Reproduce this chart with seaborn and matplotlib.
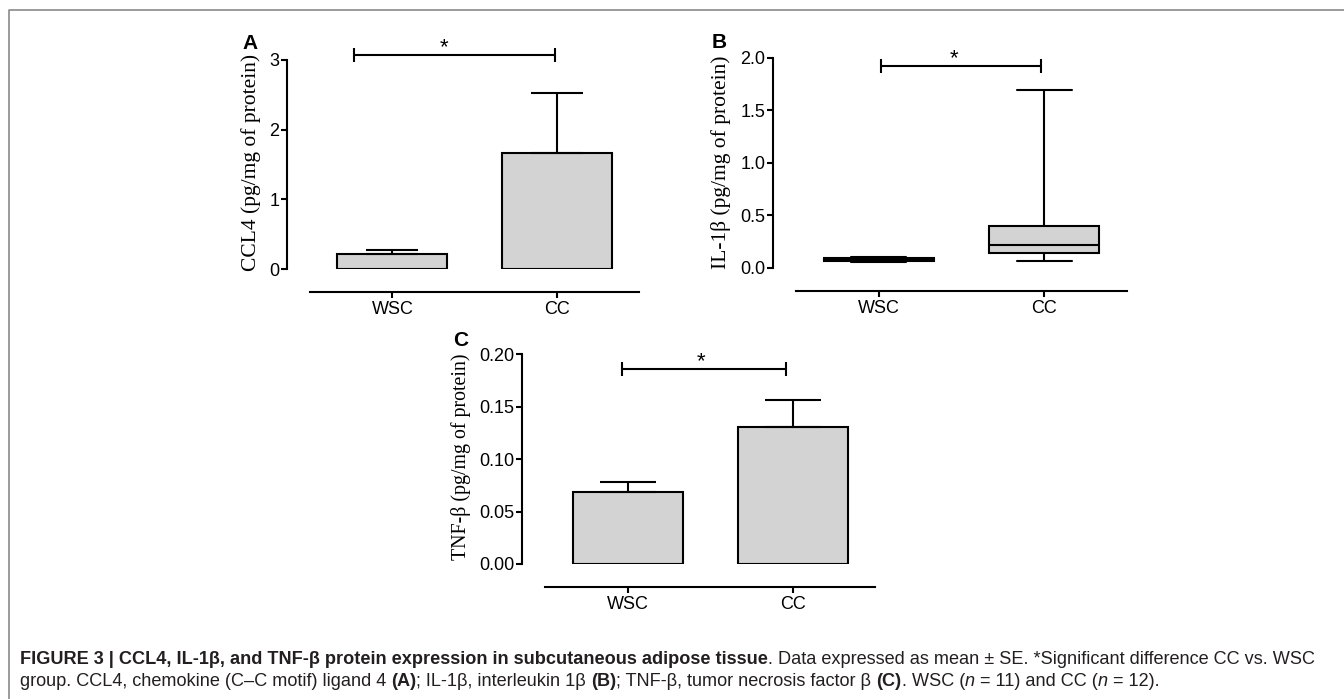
import numpy as np
import pandas as pd
import matplotlib
matplotlib.use('Agg')
import matplotlib.pyplot as plt
import seaborn as sns

# dados
grupos = ['WSC', 'CC']

# A - CCL4 (media +- EP)
ccl4_media = [0.21, 1.66]
ccl4_ep = [0.06, 0.86]

# B - IL-1b (resumo de cinco numeros: min, q1, mediana, q3, max)
il1b_wsc = [0.055, 0.06, 0.07, 0.09, 0.105]
il1b_cc = [0.064, 0.137, 0.22, 0.40, 1.69]

# C - TNF-b (media +- EP)
tnfb_media = [0.069, 0.131]
tnfb_ep = [0.0095, 0.025]

ticks_a = [0, 1, 2, 3]
ticks_b = [0.0, 0.5, 1.0, 1.5, 2.0]
ticks_c = [0.00, 0.05, 0.10, 0.15, 0.20]

# barras de significancia: (x inicio, x fim, y, x da estrela)
sig_a = (-0.236, 0.988, 3.07, 0.315)
sig_b = (0.01, 0.98, 1.92, 0.457)
sig_c = (-0.035, 0.96, 0.186, 0.447)

sns.set_style('white')
plt.rcParams['font.family'] = ['Liberation Sans', 'DejaVu Sans']
plt.rcParams['text.color'] = 'black'
plt.rcParams['axes.labelcolor'] = 'black'
plt.rcParams['xtick.color'] = 'black'
plt.rcParams['ytick.color'] = 'black'

W, H = 1344, 699
fig = plt.figure(figsize=(W / 100, H / 100), dpi=100)

# eixo de fundo em pixels (moldura e legenda)
bg = fig.add_axes([0, 0, 1, 1])
bg.set_xlim(0, W)
bg.set_ylim(H, 0)
bg.axis('off')
bg.plot([9, 9, W], [H, 10, 10], color='#8a8a8a', lw=1.2)


def novo_eixo(left, right, top, bottom):
    return fig.add_axes([left / W, 1 - bottom / H, (right - left) / W, (bottom - top) / H])


def estilo(ax, ticks, fmt, ylabel, lsize, lx, ly):
    ax.set_xlim(-0.64, 1.5)
    ax.set_ylim(ticks[0], ticks[-1])
    ax.set_yticks(ticks)
    ax.set_yticklabels([fmt.format(t) for t in ticks], fontsize=13)
    ax.tick_params(axis='x', labelsize=13, pad=2.5)
    ax.tick_params(direction='out', length=4, width=1.5, left=True, bottom=True)
    ax.tick_params(axis='y', pad=1.5)
    for s in ['top', 'right']:
        ax.spines[s].set_visible(False)
    for s in ['left', 'bottom']:
        ax.spines[s].set_linewidth(1.5)
        ax.spines[s].set_color('black')
    ax.spines['bottom'].set_position(('outward', 16.5))
    ax.spines['bottom'].set_bounds(-0.5, 1.5)
    ax.set_xlabel('')
    ax.set_ylabel(ylabel, family=['Liberation Serif', 'DejaVu Serif'], fontsize=lsize)
    ax.yaxis.set_label_coords(lx, ly)
    ax.set_facecolor('none')


def significancia(ax, sig):
    x0, x1, y, xs = sig
    ax.plot([x0, x1], [y, y], color='black', lw=1.5, marker='|', ms=9.5, mew=1.5,
            clip_on=False, solid_capstyle='butt')
    ax.annotate('*', xy=(xs, y), xytext=(0, 1.5), textcoords='offset points',
                ha='center', va='baseline', fontsize=16, annotation_clip=False)


cinza = '#d3d3d3'

# Painel A
ax_a = novo_eixo(287, 639.5, 60, 269)
sns.barplot(x=grupos, y=ccl4_media, color=cinza, saturation=1, width=0.667,
            edgecolor='black', linewidth=1.5, errorbar=None, ax=ax_a)
ax_a.errorbar(x=[0, 1], y=ccl4_media, yerr=[[0, 0], ccl4_ep], fmt='none', ecolor='black',
              elinewidth=1.5, capsize=19, capthick=1.5, zorder=1)
estilo(ax_a, ticks_a, '{:.0f}', 'CCL4 (pg/mg of protein)', 15.5, -0.075, 0.51)
significancia(ax_a, sig_a)

# Painel B
ax_b = novo_eixo(773, 1127, 57.7, 267.7)
df_b = pd.DataFrame({'grupo': ['WSC'] * len(il1b_wsc) + ['CC'] * len(il1b_cc),
                     'valor': il1b_wsc + il1b_cc})
sns.boxplot(data=df_b, x='grupo', y='valor', order=grupos, whis=(0, 100), width=0.667,
            color=cinza, saturation=1, linecolor='black', linewidth=1.5, ax=ax_b)
estilo(ax_b, ticks_b, '{:.1f}', 'IL-1β (pg/mg of protein)', 15.5, -0.12, 0.5)
significancia(ax_b, sig_b)

# Painel C
ax_c = novo_eixo(522, 875, 354.3, 564)
sns.barplot(x=grupos, y=tnfb_media, color=cinza, saturation=1, width=0.667,
            edgecolor='black', linewidth=1.5, errorbar=None, ax=ax_c)
ax_c.errorbar(x=[0, 1], y=tnfb_media, yerr=[[0, 0], tnfb_ep], fmt='none', ecolor='black',
              elinewidth=1.5, capsize=20, capthick=1.5, zorder=1)
estilo(ax_c, ticks_c, '{:.2f}', 'TNF-β (pg/mg of protein)', 14.3, -0.145, 0.51)
significancia(ax_c, sig_c)

# letras dos paineis
for letra, x, y in [('A', 242, 49), ('B', 712, 48), ('C', 453, 346)]:
    bg.text(x, y, letra, fontsize=15, fontweight='bold', va='baseline', ha='left')

# legenda da figura
tam = 13.1
esp = tam * 0.278
cor_txt = '#231f20'


def linha(x, y, partes):
    prev = bg.text(x, y, partes[0][0], fontsize=tam, fontweight=partes[0][1],
                   style=partes[0][2], va='baseline', ha='left', color=cor_txt)
    for s, peso, estilo_f, gap in partes[1:]:
        prev = bg.annotate(s, xy=(1, 0), xycoords=prev, xytext=(gap, 0),
                           textcoords='offset points', va='bottom', ha='left',
                           fontsize=tam, fontweight=peso, style=estilo_f, color=cor_txt)


linha(20, 664, [
    ('FIGURE 3 | CCL4, IL-1β, and TNF-β protein expression in subcutaneous adipose tissue', 'bold', 'normal', 0),
    ('. Data expressed as mean ± SE. *Significant difference CC vs. WSC', 'normal', 'normal', 0),
])
linha(20, 686, [
    ('group. CCL4, chemokine (C–C motif) ligand 4', 'normal', 'normal', 0),
    ('(A)', 'bold', 'normal', esp),
    ('; IL-1β, interleukin 1β', 'normal', 'normal', 0),
    ('(B)', 'bold', 'normal', esp),
    ('; TNF-β, tumor necrosis factor β', 'normal', 'normal', 0),
    ('(C)', 'bold', 'normal', esp),
    ('. WSC (', 'normal', 'normal', 0),
    ('n', 'normal', 'italic', 0),
    ('= 11) and CC (', 'normal', 'normal', esp),
    ('n', 'normal', 'italic', 0),
    ('= 12).', 'normal', 'normal', esp),
])

fig.savefig('out.png', dpi=100)
